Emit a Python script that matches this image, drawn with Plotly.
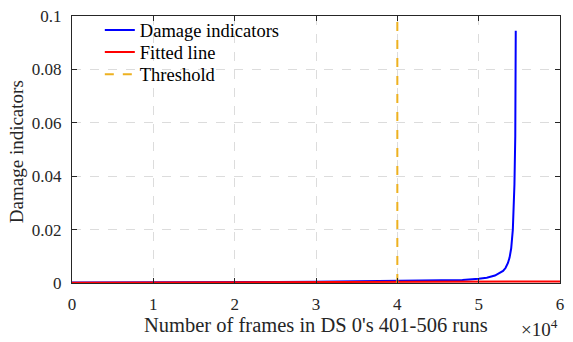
import plotly.graph_objects as go

# Damage indicator curve (frames, value)
di_frames = [0, 5000, 10000, 15000, 20000, 25000, 30000, 35000, 40000, 45000, 48000,
             50000, 51000, 52000, 52500, 53000, 53300, 53600, 53800, 54000, 54200,
             54300, 54400, 54500, 54550, 54560]
di_values = [0.0002, 0.0002, 0.0003, 0.0003, 0.0004, 0.0004, 0.0005, 0.0006, 0.0007,
             0.0008, 0.0011, 0.0016, 0.002, 0.0028, 0.0035, 0.0045, 0.0056, 0.0075,
             0.0095, 0.013, 0.02, 0.027, 0.037, 0.055, 0.075, 0.0945]

# Fitted line
fit_frames = [0, 60000]
fit_values = [0.0001, 0.0006]

# Threshold
thr_frames = [40000, 40000]
thr_values = [0, 0.1]

x_tickvals = [0, 10000, 20000, 30000, 40000, 50000, 60000]
x_ticktext = ["0", "1", "2", "3", "4", "5", "6"]
y_tickvals = [0, 0.02, 0.04, 0.06, 0.08, 0.1]
y_ticktext = ["0", "0.02", "0.04", "0.06", "0.08", "0.1"]

FONT = "Liberation Serif"
TXT = "#262626"

fig = go.Figure()
fig.add_trace(go.Scatter(x=di_frames, y=di_values, mode="lines", name="Damage indicators",
                         line=dict(color="#0000FF", width=2), legend="legend"))
fig.add_trace(go.Scatter(x=fit_frames, y=fit_values, mode="lines", name="Fitted line",
                         line=dict(color="#FF0000", width=2), legend="legend2"))
fig.add_trace(go.Scatter(x=thr_frames, y=thr_values, mode="lines", name="Threshold",
                         line=dict(color="#EDB120", width=2, dash="dash"), legend="legend3"))

axis_common = dict(showline=True, linecolor=TXT, linewidth=1, mirror="allticks",
                   ticks="inside", ticklen=5, tickcolor=TXT,
                   showgrid=True, gridcolor="#DCDCDC", griddash="dash", gridwidth=1,
                   zeroline=False, ticklabeloverflow="allow",
                   tickfont=dict(family=FONT, size=17, color=TXT))

fig.update_xaxes(range=[0, 60000], tickvals=x_tickvals, ticktext=x_ticktext,
                 ticklabelstandoff=6, **axis_common)
fig.update_yaxes(range=[0, 0.1], tickvals=y_tickvals, ticktext=y_ticktext,
                 ticklabelstandoff=6, **axis_common)

# Axis titles
fig.add_annotation(text="Number of frames in DS 0's 401-506 runs", xref="paper", yref="paper",
                   x=0.5, y=0, xanchor="center", yanchor="top", yshift=-29, showarrow=False,
                   font=dict(family=FONT, size=20.5, color=TXT))
fig.add_annotation(text="Damage indicators", xref="paper", yref="paper", textangle=-90,
                   x=0, y=0.49, xanchor="center", yanchor="middle", xshift=-56, showarrow=False,
                   font=dict(family=FONT, size=19, color=TXT))
fig.add_annotation(text="×10<sup>4</sup>", xref="paper", yref="paper", x=1.0, y=0,
                   xanchor="right", yanchor="top", yshift=-31, showarrow=False,
                   font=dict(family=FONT, size=19, color=TXT))

leg_common = dict(x=0.057, xanchor="left", yanchor="middle", bgcolor="rgba(0,0,0,0)",
                  font=dict(family=FONT, size=18.5, color="#000000"), itemwidth=30)

fig.update_layout(
    width=573, height=342,
    margin=dict(l=72, r=13, t=7, b=59),
    plot_bgcolor="white", paper_bgcolor="white",
    font=dict(family=FONT, color=TXT),
    legend=dict(y=0.946, **leg_common),
    legend2=dict(y=0.863, **leg_common),
    legend3=dict(y=0.780, **leg_common),
    showlegend=True,
)

fig.write_html("out.html")
